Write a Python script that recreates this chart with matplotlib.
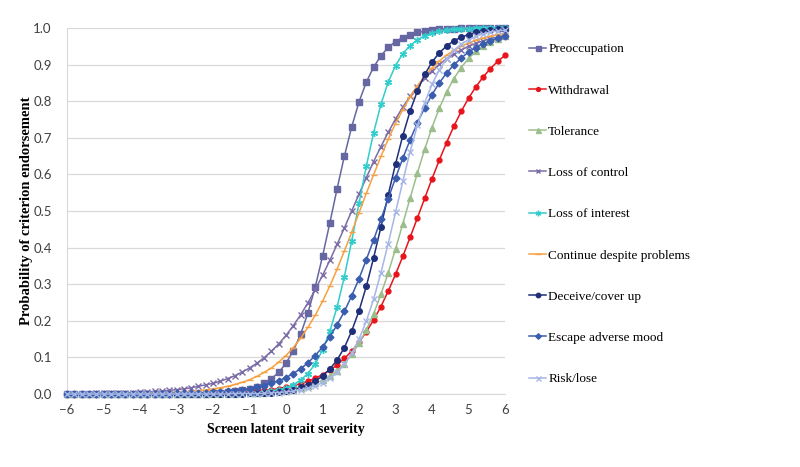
import numpy as np
import matplotlib
matplotlib.use("Agg")
import matplotlib.pyplot as plt

# latent trait grid (-6 .. 6, step 0.2)
theta = np.round(np.arange(-6, 6.01, 0.2), 1)

# probability of endorsement, in thousandths
preoccupation = [0] * 17 + [1, 1, 1, 2, 3, 5, 7, 10, 14, 20, 29, 42, 59, 84, 118, 163, 221, 292, 376, 467,
                            561, 650, 730, 798, 852, 893, 924, 947, 963, 974, 982, 988, 991, 994, 996, 997,
                            998, 999, 999, 999, 1000, 1000, 1000, 1000]
withdrawal = [0] * 14 + [1, 1, 1, 1, 1, 2, 2, 3, 3, 4, 5, 6, 8, 10, 12, 15, 19, 23, 28, 35, 43, 53, 65, 79,
                         97, 117, 141, 170, 202, 239, 281, 327, 376, 428, 481, 535, 588, 639, 687, 732, 772,
                         808, 839, 866, 889, 909, 925]
tolerance = [0] * 20 + [1, 1, 1, 1, 2, 2, 3, 4, 5, 7, 9, 12, 16, 22, 29, 38, 49, 64, 83, 108, 138, 175, 219,
                        272, 331, 396, 465, 535, 604, 669, 728, 781, 825, 862, 892, 917, 936, 951, 962, 971, 978]
loss_control = [1, 1, 1, 1, 2, 2, 2, 3, 3, 4, 5, 6, 7, 8, 10, 12, 14, 17, 21, 25, 29, 35, 42, 50, 60, 71, 84,
                99, 117, 137, 160, 187, 216, 249, 285, 324, 365, 409, 454, 500, 546, 591, 635, 676, 715, 751,
                784, 813, 840, 863, 883, 901, 916, 929, 940, 950, 958, 965, 971, 975, 979]
loss_interest = [0] * 22 + [1, 1, 1, 2, 3, 5, 7, 11, 17, 25, 38, 56, 82, 120, 171, 238, 321, 418, 521, 622,
                            714, 791, 852, 897, 930, 952, 968, 979, 986, 991, 994, 996, 997, 998, 999, 999,
                            999, 1000, 1000]
continue_despite = [0] * 5 + [1, 1, 1, 1, 1, 2, 2, 3, 3, 4, 5, 6, 7, 9, 11, 14, 17, 21, 26, 32, 39, 48, 59, 71,
                              87, 105, 127, 152, 182, 215, 253, 295, 341, 391, 442, 495, 548, 599, 649, 696,
                              739, 777, 812, 842, 868, 891, 910, 926, 939, 950, 959, 967, 973, 978, 982, 985]
deceive = [0] * 22 + [1, 1, 1, 2, 2, 3, 4, 6, 9, 12, 18, 25, 35, 49, 68, 93, 127, 172, 227, 294, 372, 456,
                      544, 628, 706, 773, 828, 873, 907, 932, 951, 965, 975, 982, 988, 991, 994, 996, 997]
escape = [0] * 11 + [1, 1, 1, 1, 2, 2, 2, 3, 4, 5, 6, 8, 9, 12, 15, 19, 23, 29, 36, 45, 56, 69, 85, 105, 128,
                     156, 189, 226, 268, 315, 367, 421, 477, 534, 590, 644, 694, 741, 782, 818, 850, 877, 899,
                     918, 934, 946, 957, 965, 972, 978]
risk = [0] * 23 + [1, 1, 1, 1, 2, 3, 4, 6, 8, 11, 16, 22, 31, 43, 59, 81, 111, 150, 199, 259, 331, 411, 496,
                   581, 662, 734, 796, 846, 886, 916, 939, 956, 968, 977, 984, 989, 992, 994]

labels = ["Preoccupation", "Withdrawal", "Tolerance", "Loss of control", "Loss of interest",
          "Continue despite problems", "Deceive/cover up", "Escape adverse mood", "Risk/lose"]
series = [preoccupation, withdrawal, tolerance, loss_control, loss_interest,
          continue_despite, deceive, escape, risk]
colors = ["#6666A3", "#E8141B", "#9CBE8C", "#7B6CA8", "#33CCCC",
          "#F7A040", "#1F2F7A", "#3A5DAE", "#A6B6E6"]
markers = ["s", "o", "^", "x", (6, 2, 0), "_", "o", "D", "x"]
msizes = [4.5, 3.5, 4.5, 4, 5, 5, 4, 3.5, 4.5]

fig = plt.figure(figsize=(8, 4.67), dpi=100)
ax = fig.add_axes([67 / 800, 1 - 394 / 467, 438 / 800, 366 / 467])

for vals, lab, c, m, ms in zip(series, labels, colors, markers, msizes):
    ax.plot(theta, np.array(vals) / 1000, color=c, lw=1.1, marker=m, ms=ms,
            mew=1.0, label=lab, clip_on=False, zorder=3)

ax.set_xlim(-6, 6)
ax.set_ylim(0, 1)
ax.set_xticks(range(-6, 7))
ax.set_xticklabels([str(t).replace("-", "\u2212") for t in range(-6, 7)])
ax.set_yticks(np.arange(0, 1.01, 0.1))
ax.set_yticklabels([f"{t:.1f}" for t in np.arange(0, 1.01, 0.1)])
ax.grid(axis="y", color="#D9D9D9", lw=0.9)
ax.set_axisbelow(True)
for s in ["top", "right"]:
    ax.spines[s].set_visible(False)
for s in ["left", "bottom"]:
    ax.spines[s].set_color("#D9D9D9")
ax.tick_params(length=0, labelsize=9.5, labelcolor="#404040")
ax.tick_params(axis="x", pad=7)
ax.tick_params(axis="y", pad=11)
for t in ax.get_xticklabels() + ax.get_yticklabels():
    t.set_family("Lato")

ax.set_xlabel("Screen latent trait severity", family="Liberation Serif",
              fontweight="bold", fontsize=10, labelpad=5)
ax.set_ylabel("Probability of criterion endorsement", family="Liberation Serif",
              fontweight="bold", fontsize=10.5, labelpad=0)

fig.legend(loc="upper left", bbox_to_anchor=(529 / 800, 1 - 43 / 467), frameon=False,
           prop={"family": "Liberation Serif", "size": 9.5}, labelspacing=2.2,
           handlelength=1.3, handletextpad=0.15, borderpad=0, borderaxespad=0,
           markerscale=0.8)

fig.savefig("out.png", dpi=100)
